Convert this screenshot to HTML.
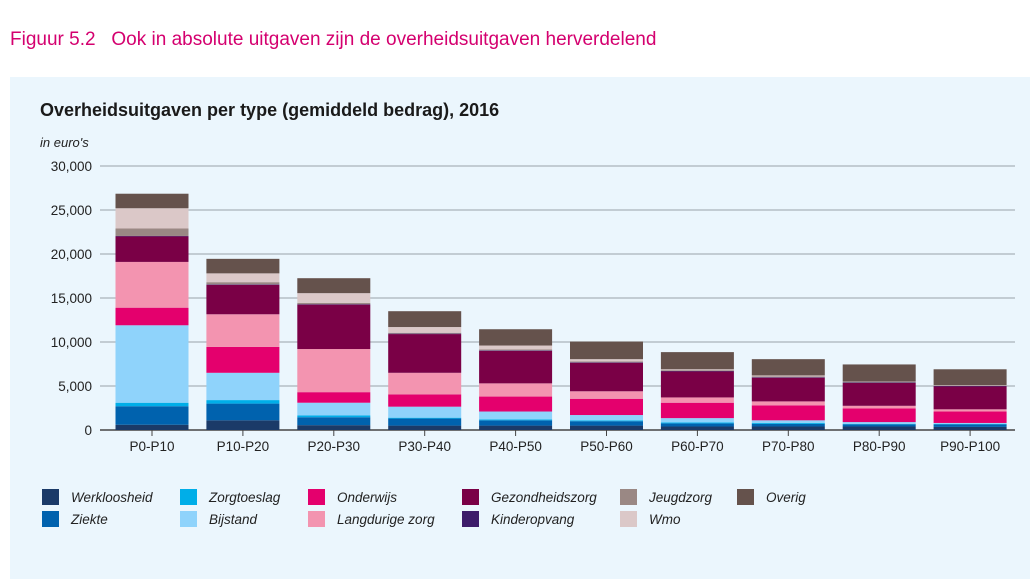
<!DOCTYPE html>
<html><head><meta charset="utf-8"><style>
body{margin:0;width:1030px;height:579px;background:#fff;font-family:"Liberation Sans",sans-serif;overflow:hidden;position:relative}
#fig{position:absolute;left:10px;top:29px;font-size:19px;color:#d4006f;white-space:nowrap}
#panel{position:absolute;left:10px;top:77px;width:1020px;height:502px;background:#ebf6fd}
svg{position:absolute;left:0;top:0}
</style></head><body>
<div id="fig">Figuur 5.2&nbsp;&nbsp; Ook in absolute uitgaven zijn de overheidsuitgaven herverdelend</div>
<div id="panel"></div>
<svg id="chart" width="1030" height="579">
<text x="40" y="116" font-size="18" font-weight="bold" fill="#1a1a1a">Overheidsuitgaven per type (gemiddeld bedrag), 2016</text>
<text x="40" y="147" font-size="13" font-style="italic" fill="#222">in euro's</text>
</svg>
<script>
const categories=["P0-P10","P10-P20","P20-P30","P30-P40","P40-P50","P50-P60","P60-P70","P70-P80","P80-P90","P90-P100"];
const seriesNames=["Werkloosheid","Ziekte","Zorgtoeslag","Bijstand","Onderwijs","Langdurige zorg","Gezondheidszorg","Kinderopvang","Jeugdzorg","Wmo","Overig"];
const werkloosheid=[600,1100,550,500,500,500,400,400,400,350];
const ziekte=[2100,1900,900,800,600,500,350,300,250,300];
const zorgtoeslag=[400,400,200,100,100,100,100,100,50,50];
const bijstand=[8800,3100,1450,1250,900,600,500,300,200,100];
const onderwijs=[2000,2950,1200,1400,1700,1850,1750,1700,1550,1300];
const langdurigeZorg=[5200,3700,4900,2450,1500,850,600,450,300,250];
const gezondheidszorg=[2900,3350,5050,4400,3700,3250,2950,2700,2600,2600];
const kinderopvang=[50,50,50,50,50,50,50,50,50,50];
const jeugdzorg=[850,250,150,100,100,100,100,100,50,50];
const wmo=[2300,1000,1100,650,450,250,100,100,50,50];
const overig=[1650,1650,1700,1800,1850,2000,1950,1850,1950,1800];
const yTicks=[0,5000,10000,15000,20000,25000,30000];
const yTickLabels=["0","5,000","10,000","15,000","20,000","25,000","30,000"];
const series=[werkloosheid,ziekte,zorgtoeslag,bijstand,onderwijs,langdurigeZorg,gezondheidszorg,kinderopvang,jeugdzorg,wmo,overig];
const colors=["#1b3a68","#0062ae","#00aee8","#8fd3fb","#e4006d","#f394b0","#7a0046","#3d1c6a","#9a8884","#dbc8c8","#65524c"];
const svg=document.getElementById('chart');const NS="http://www.w3.org/2000/svg";
function mk(t,a){const e=document.createElementNS(NS,t);for(const k in a)e.setAttribute(k,a[k]);svg.appendChild(e);return e;}
const y0=430,yTop=166,yMax=30000;
function y(v){return y0-(v/yMax)*(y0-yTop);}
const step=90.9,x0=152,bw=73;
function xc(i){return x0+i*step;}
yTicks.forEach((t,i)=>{
 const l=mk('line',{x1:100,x2:1015,y1:y(t),y2:y(t),stroke:i==0?'#444':'#a9b2ba','stroke-width':i==0?1.5:1.2});
 
 
 const tx=mk('text',{x:92,y:y(t)+5,'text-anchor':'end','font-size':13.5,fill:'#222'});
 tx.textContent=yTickLabels[i];
 
 
});
categories.forEach((c,i)=>{
 let acc=0;
 series.forEach((s,k)=>{
  const v=s[i];
  const r=mk('rect',{x:xc(i)-bw/2,y:y(acc+v),width:bw,height:y(acc)-y(acc+v),fill:colors[k]});
  
  
  acc+=v;
 });
 const tk=mk('line',{x1:xc(i),x2:xc(i),y1:430,y2:436,stroke:'#444'});
 
 
 const tx=mk('text',{x:xc(i),y:451,'text-anchor':'middle','font-size':13.5,fill:'#222'});
 tx.textContent=c;
 
 
});
const legX=[42,42,180,180,308,308,462,462,620,620,737];
const legRow=[0,1,0,1,0,1,0,1,0,1,0];
seriesNames.forEach((n,k)=>{
 const ly=489+legRow[k]*22;
 const r=mk('rect',{x:legX[k],y:ly,width:17,height:16,fill:colors[k]});
 
 
 const t=mk('text',{x:legX[k]+29,y:ly+13,'font-size':13.5,'font-style':'italic',fill:'#222'});
 t.textContent=n;
 
 
});
</script>
</body></html>
